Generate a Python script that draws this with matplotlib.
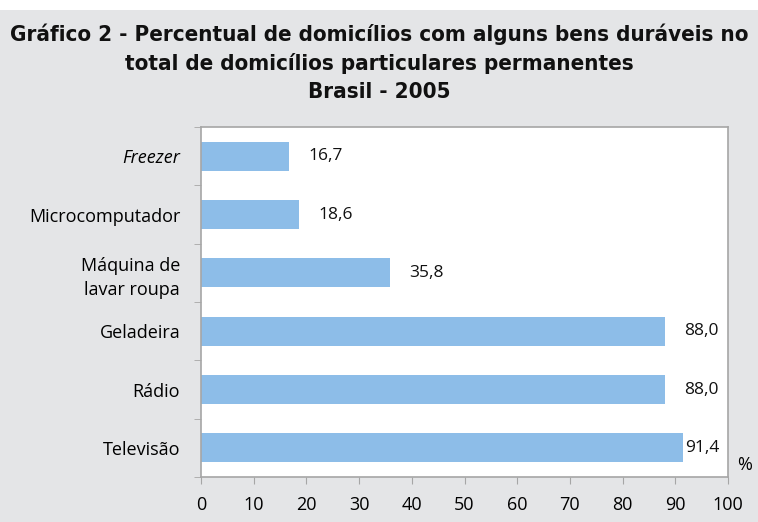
import matplotlib
matplotlib.use("Agg")
import matplotlib.pyplot as plt
import numpy as np

categories = ["Freezer", "Microcomputador", "Máquina de\nlavar roupa", "Geladeira", "Rádio", "Televisão"]
values = [16.7, 18.6, 35.8, 88.0, 88.0, 91.4]
value_labels = ["16,7", "18,6", "35,8", "88,0", "88,0", "91,4"]
xticks = [0, 10, 20, 30, 40, 50, 60, 70, 80, 90, 100]
title = ("Gráfico 2 - Percentual de domicílios com alguns bens duráveis no\n"
         "total de domicílios particulares permanentes\nBrasil - 2005")

BG = "#e4e5e7"
BAR = "#8dbde8"
EDGE = "#a6a6a6"
FONT = ["Open Sans", "DejaVu Sans"]

fig = plt.figure(figsize=(7.58, 5.22), dpi=100)
fig.patch.set_facecolor("white")
fig.patches.append(plt.Rectangle((0, 0), 1, 1 - 10 / 522, transform=fig.transFigure,
                                 facecolor=BG, edgecolor="none", zorder=-10))

W, H = 758, 522
left, right, top, bottom = 201, 728, 127, 477
ax = fig.add_axes([left / W, 1 - bottom / H, (right - left) / W, (bottom - top) / H])
ax.set_facecolor("white")

y = np.arange(len(categories))
ax.barh(y, values, height=0.5, color=BAR, zorder=2)
ax.set_ylim(len(categories) - 0.5, -0.5)
ax.set_xlim(0, 100)

for yi, v, lab in zip(y, values, value_labels):
    ax.text(min(v + 3.7, 91.8), yi, lab, va="center", ha="left", fontsize=12.5,
            family=FONT, color="#111111")

ax.set_yticks(y)
ax.set_yticklabels(categories, fontsize=13, family=FONT, linespacing=1.45)
ax.get_yticklabels()[0].set_fontstyle("italic")
ax.tick_params(axis="y", which="major", length=0, pad=15)
ax.set_yticks(np.arange(len(categories) + 1) - 0.5, minor=True)
ax.tick_params(axis="y", which="minor", length=5, color=EDGE, direction="out")

ax.set_xticks(xticks)
ax.set_xticklabels([str(t) for t in xticks], fontsize=13, family=FONT)
ax.tick_params(axis="x", length=5, color=EDGE, direction="out", pad=9)

for s in ax.spines.values():
    s.set_color(EDGE)
    s.set_linewidth(1.2)

fig.text(745 / W, 1 - 465 / H, "%", ha="center", va="center", fontsize=13, family=FONT)

fig.text(0.5, 1 - 63 / H, title, ha="center", va="center", fontsize=16,
         fontweight="bold", fontstretch="condensed",
         family=["DejaVu Sans"], linespacing=1.5, color="#111111")

fig.savefig("out.png", dpi=100, facecolor=fig.get_facecolor())
